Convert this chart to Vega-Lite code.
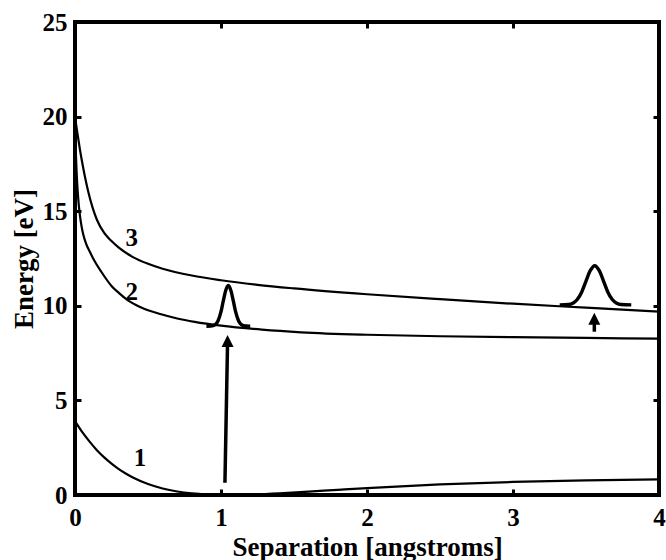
{
  "$schema": "https://vega.github.io/schema/vega-lite/v6.json",
  "width": 584,
  "height": 473,
  "autosize": {"type": "none"},
  "padding": {"left": 75, "top": 22, "right": 7, "bottom": 65},
  "background": "white",
  "config": {
    "view": {"stroke": "black", "strokeWidth": 4},
    "axis": {
      "domain": false,
      "grid": false,
      "tickColor": "black",
      "tickWidth": 3,
      "tickSize": -6,
      "labelFont": "Liberation Serif",
      "labelFontWeight": "bold",
      "labelFontSize": 25,
      "labelColor": "black",
      "titleFont": "Liberation Serif",
      "titleFontWeight": "bold",
      "titleFontSize": 27,
      "titleColor": "black",
      "labelFlush": false,
      "labelOverlap": false,
      "labelBound": false,
      "format": "d"
    }
  },
  "datasets": {
    "curves": [
      {"x": 0, "y": 3.9, "curve": "1"},
      {"x": 0.05, "y": 3.32, "curve": "1"},
      {"x": 0.1, "y": 2.82, "curve": "1"},
      {"x": 0.15, "y": 2.37, "curve": "1"},
      {"x": 0.2, "y": 1.99, "curve": "1"},
      {"x": 0.25, "y": 1.66, "curve": "1"},
      {"x": 0.3, "y": 1.37, "curve": "1"},
      {"x": 0.35, "y": 1.125, "curve": "1"},
      {"x": 0.4, "y": 0.913, "curve": "1"},
      {"x": 0.5, "y": 0.58, "curve": "1"},
      {"x": 0.6, "y": 0.346, "curve": "1"},
      {"x": 0.7, "y": 0.186, "curve": "1"},
      {"x": 0.8, "y": 0.085, "curve": "1"},
      {"x": 0.9, "y": 0.027, "curve": "1"},
      {"x": 1.0, "y": 0.003, "curve": "1"},
      {"x": 1.05, "y": 0.0, "curve": "1"},
      {"x": 1.1, "y": 0.002, "curve": "1"},
      {"x": 1.2, "y": 0.02, "curve": "1"},
      {"x": 1.4, "y": 0.088, "curve": "1"},
      {"x": 1.6, "y": 0.179, "curve": "1"},
      {"x": 1.8, "y": 0.275, "curve": "1"},
      {"x": 2.0, "y": 0.367, "curve": "1"},
      {"x": 2.5, "y": 0.56, "curve": "1"},
      {"x": 3.0, "y": 0.69, "curve": "1"},
      {"x": 3.5, "y": 0.775, "curve": "1"},
      {"x": 4.0, "y": 0.83, "curve": "1"},
      {"x": 0, "y": 19.8, "curve": "2"},
      {"x": 0.005, "y": 18.3, "curve": "2"},
      {"x": 0.011, "y": 17.1, "curve": "2"},
      {"x": 0.018, "y": 16.1, "curve": "2"},
      {"x": 0.025, "y": 15.4, "curve": "2"},
      {"x": 0.035, "y": 14.7, "curve": "2"},
      {"x": 0.045, "y": 14.2, "curve": "2"},
      {"x": 0.057, "y": 13.75, "curve": "2"},
      {"x": 0.075, "y": 13.3, "curve": "2"},
      {"x": 0.1, "y": 12.88, "curve": "2"},
      {"x": 0.13, "y": 12.42, "curve": "2"},
      {"x": 0.18, "y": 11.8, "curve": "2"},
      {"x": 0.25, "y": 11.05, "curve": "2"},
      {"x": 0.3, "y": 10.68, "curve": "2"},
      {"x": 0.36, "y": 10.3, "curve": "2"},
      {"x": 0.45, "y": 9.92, "curve": "2"},
      {"x": 0.59, "y": 9.55, "curve": "2"},
      {"x": 0.7, "y": 9.33, "curve": "2"},
      {"x": 0.82, "y": 9.15, "curve": "2"},
      {"x": 1.0, "y": 8.95, "curve": "2"},
      {"x": 1.28, "y": 8.74, "curve": "2"},
      {"x": 1.55, "y": 8.6, "curve": "2"},
      {"x": 2.0, "y": 8.47, "curve": "2"},
      {"x": 2.5, "y": 8.39, "curve": "2"},
      {"x": 3.0, "y": 8.34, "curve": "2"},
      {"x": 3.5, "y": 8.3, "curve": "2"},
      {"x": 4.0, "y": 8.26, "curve": "2"},
      {"x": 0, "y": 20.0, "curve": "3"},
      {"x": 0.01, "y": 19.45, "curve": "3"},
      {"x": 0.02, "y": 18.95, "curve": "3"},
      {"x": 0.035, "y": 18.2, "curve": "3"},
      {"x": 0.05, "y": 17.55, "curve": "3"},
      {"x": 0.07, "y": 16.75, "curve": "3"},
      {"x": 0.09, "y": 16.05, "curve": "3"},
      {"x": 0.12, "y": 15.2, "curve": "3"},
      {"x": 0.15, "y": 14.55, "curve": "3"},
      {"x": 0.2, "y": 13.85, "curve": "3"},
      {"x": 0.25, "y": 13.42, "curve": "3"},
      {"x": 0.3, "y": 13.07, "curve": "3"},
      {"x": 0.4, "y": 12.56, "curve": "3"},
      {"x": 0.5, "y": 12.22, "curve": "3"},
      {"x": 0.6, "y": 11.96, "curve": "3"},
      {"x": 0.8, "y": 11.6, "curve": "3"},
      {"x": 1.0, "y": 11.35, "curve": "3"},
      {"x": 1.25, "y": 11.11, "curve": "3"},
      {"x": 1.5, "y": 10.92, "curve": "3"},
      {"x": 2.0, "y": 10.61, "curve": "3"},
      {"x": 2.5, "y": 10.35, "curve": "3"},
      {"x": 3.0, "y": 10.11, "curve": "3"},
      {"x": 3.5, "y": 9.9, "curve": "3"},
      {"x": 4.0, "y": 9.69, "curve": "3"}
    ],
    "packets": [
      {"x": 0.9, "y": 8.92, "packet": "a"},
      {"x": 0.93, "y": 8.93, "packet": "a"},
      {"x": 0.96, "y": 9.0, "packet": "a"},
      {"x": 0.98, "y": 9.21, "packet": "a"},
      {"x": 1.0, "y": 9.69, "packet": "a"},
      {"x": 1.015, "y": 10.23, "packet": "a"},
      {"x": 1.03, "y": 10.75, "packet": "a"},
      {"x": 1.05, "y": 11.07, "packet": "a"},
      {"x": 1.07, "y": 10.75, "packet": "a"},
      {"x": 1.085, "y": 10.23, "packet": "a"},
      {"x": 1.1, "y": 9.69, "packet": "a"},
      {"x": 1.12, "y": 9.21, "packet": "a"},
      {"x": 1.14, "y": 9.0, "packet": "a"},
      {"x": 1.17, "y": 8.93, "packet": "a"},
      {"x": 1.2, "y": 8.92, "packet": "a"},
      {"x": 3.32, "y": 10.05, "packet": "b"},
      {"x": 3.38, "y": 10.07, "packet": "b"},
      {"x": 3.41, "y": 10.14, "packet": "b"},
      {"x": 3.44, "y": 10.33, "packet": "b"},
      {"x": 3.47, "y": 10.72, "packet": "b"},
      {"x": 3.5, "y": 11.31, "packet": "b"},
      {"x": 3.53, "y": 11.87, "packet": "b"},
      {"x": 3.56, "y": 12.12, "packet": "b"},
      {"x": 3.59, "y": 11.87, "packet": "b"},
      {"x": 3.62, "y": 11.31, "packet": "b"},
      {"x": 3.65, "y": 10.72, "packet": "b"},
      {"x": 3.68, "y": 10.33, "packet": "b"},
      {"x": 3.71, "y": 10.14, "packet": "b"},
      {"x": 3.74, "y": 10.07, "packet": "b"},
      {"x": 3.81, "y": 10.05, "packet": "b"}
    ],
    "arrows": [
      {"x": 1.027, "y": 0.65, "x2": 1.045, "y2": 8.1, "tip": 8.46},
      {"x": 3.557, "y": 8.63, "x2": 3.557, "y2": 9.3, "tip": 9.63}
    ],
    "labels": [
      {"x": 0.388, "y": 13.58, "text": "3"},
      {"x": 0.388, "y": 10.75, "text": "2"},
      {"x": 0.445, "y": 1.94, "text": "1"}
    ]
  },
  "layer": [
    {
      "layer": [
        {
          "data": {"name": "curves"},
          "mark": {"type": "line", "color": "black", "strokeWidth": 2.2, "interpolate": "monotone", "clip": true},
          "encoding": {
            "x": {
              "field": "x", "type": "quantitative",
              "scale": {"domain": [0, 4], "nice": false, "zero": false},
              "axis": {"values": [0, 1, 2, 3, 4], "title": "Separation [angstroms]", "labelPadding": 36, "labelBaseline": "alphabetic", "titleBaseline": "alphabetic", "titleY": 60}
            },
            "y": {
              "field": "y", "type": "quantitative",
              "scale": {"domain": [0, 25], "nice": false, "zero": false},
              "axis": {"values": [0, 5, 10, 15, 20, 25], "title": "Energy [eV]", "labelPadding": 14, "titleBaseline": "alphabetic", "titleX": -43}
            },
            "detail": {"field": "curve"}
          }
        },
        {
          "data": {"name": "packets"},
          "mark": {"type": "line", "color": "black", "strokeWidth": 3.4, "interpolate": "monotone", "clip": true},
          "encoding": {
            "x": {"field": "x", "type": "quantitative"},
            "y": {"field": "y", "type": "quantitative"},
            "detail": {"field": "packet"}
          }
        },
        {
          "data": {"name": "arrows"},
          "mark": {"type": "rule", "color": "black", "strokeWidth": 3.5},
          "encoding": {
            "x": {"field": "x", "type": "quantitative"},
            "y": {"field": "y", "type": "quantitative"},
            "x2": {"field": "x2"},
            "y2": {"field": "y2"}
          }
        },
        {
          "data": {"name": "arrows"},
          "mark": {"type": "point", "filled": true, "color": "black", "opacity": 1, "strokeWidth": 0, "size": 576, "shape": "M0,0L-0.5,1L0.5,1Z"},
          "encoding": {
            "x": {"field": "x2", "type": "quantitative"},
            "y": {"field": "tip", "type": "quantitative"}
          }
        },
        {
          "data": {"name": "labels"},
          "mark": {"type": "text", "font": "Liberation Serif", "fontWeight": "bold", "fontSize": 25, "color": "black", "align": "center", "baseline": "middle"},
          "encoding": {
            "x": {"field": "x", "type": "quantitative"},
            "y": {"field": "y", "type": "quantitative"},
            "text": {"field": "text"}
          }
        }
      ]
    },
    {
      "data": {"values": [{"x": 0, "y": 0}]},
      "mark": {"type": "point", "opacity": 0},
      "encoding": {
        "x": {
          "field": "x", "type": "quantitative",
          "scale": {"domain": [0, 4], "nice": false, "zero": false},
          "axis": {"orient": "top", "values": [0, 1, 2, 3, 4], "labels": false, "title": null}
        },
        "y": {
          "field": "y", "type": "quantitative",
          "scale": {"domain": [0, 25], "nice": false, "zero": false},
          "axis": {"orient": "right", "values": [0, 5, 10, 15, 20, 25], "labels": false, "title": null}
        }
      }
    }
  ],
  "resolve": {"scale": {"x": "independent", "y": "independent"}}
}
